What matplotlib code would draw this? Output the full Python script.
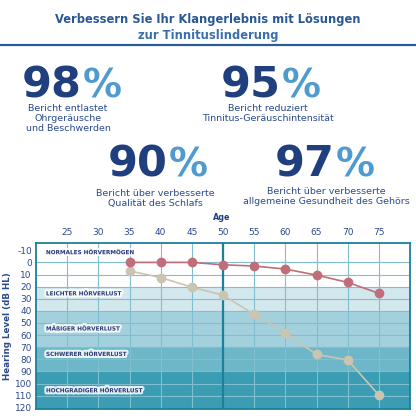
import matplotlib.pyplot as plt
import matplotlib.patheffects as pe
import numpy as np

plt.rcParams['axes.unicode_minus'] = False

ages = [35, 40, 45, 50, 55, 60, 65, 70, 75]
with_help = [0, 0, 0, 2, 3, 5.5, 10.5, 16.5, 25.5]
without_help = [7, 12.5, 20.5, 27, 43, 58, 76, 80.5, 109.5]

x_ticks = [25, 30, 35, 40, 45, 50, 55, 60, 65, 70, 75]
y_ticks = [-10, 0, 10, 20, 30, 40, 50, 60, 70, 80, 90, 100, 110, 120]

bands = [(-20, 20, '#ffffff'), (20, 40, '#d3e8ed'), (40, 70, '#a2d0dc'),
         (70, 90, '#6db7c8'), (90, 130, '#3b9db3')]
band_labels = [('NORMALES HÖRVERMÖGEN', -8), ('LEICHTER HÖRVERLUST', 26),
               ('MÄßIGER HÖRVERLUST', 55), ('SCHWERER HÖRVERLUST', 76),
               ('HOCHGRADIGER HÖRVERLUST', 106)]

stats = [('98', 'Bericht entlastet\nOhrgeräusche\nund Beschwerden'),
         ('95', 'Bericht reduziert\nTinnitus-Geräuschintensität'),
         ('90', 'Bericht über verbesserte\nQualität des Schlafs'),
         ('97', 'Bericht über verbesserte\nallgemeine Gesundheit des Gehörs')]

navy = '#1f3f7e'
text_blue = '#2b4a8c'
light_blue = '#4f9bd0'

fig = plt.figure(figsize=(4.16, 4.16), dpi=100)
W, H = 416, 416

def ft(x, y, s, **kw):
    fig.text(x / W, 1 - y / H, s, **kw)

# title
ft(208, 20, 'Verbessern Sie Ihr Klangerlebnis mit Lösungen', ha='center', va='center',
   fontsize=8.3, fontweight='bold', color='#2a5896')
ft(208, 35, 'zur Tinnituslinderung', ha='center', va='center',
   fontsize=8.3, fontweight='bold', color='#3a6fae')
fig.add_artist(plt.Line2D([0, 1], [1 - 45 / H] * 2, color='#2a5c9a', lw=1.6))

# big numbers
num_pos = [(82, 98, 68, 104), (281, 98, 268, 104), (168, 177, 155, 189), (335, 177, 326, 187)]
for (num, sub), (xs, yb, xc, ysub) in zip(stats, num_pos):
    ft(xs, yb, num, ha='right', va='baseline', fontsize=31, fontweight='heavy', color=navy)
    ft(xs + 1, yb, '%', ha='left', va='baseline', fontsize=28, fontweight='heavy', color=light_blue)
    ft(xc, ysub, sub, ha='center', va='top', fontsize=6.8, color=text_blue, linespacing=1.15)

# audiogram
ax = fig.add_axes([36 / W, 1 - 409 / H, 374 / W, 166 / H])
for lo, hi, c in bands:
    ax.axhspan(lo, hi, color=c, zorder=0, lw=0)
for v in range(0, 120, 10):
    ax.axhline(v, color='#7fbfcf', lw=0.8, zorder=1)
for v in x_ticks:
    ax.axvline(v, color='#7fbfcf', lw=0.8, zorder=1)
ax.axvline(50, color='#1d7f99', lw=1.6, zorder=2)

for label, yv in band_labels:
    ax.text(21.6, yv, label, fontsize=4.1, fontweight='bold', color='#2c3f78', va='center',
            zorder=3, path_effects=[pe.withStroke(linewidth=3, foreground='#ffffff', alpha=0.85)])

ax.plot(ages, without_help, color='#cbc4b0', lw=1.2, marker='o', ms=6, zorder=4)
ax.plot(ages, with_help, color='#c06e79', lw=1.2, marker='o', ms=6, zorder=5)

ax.set_xlim(20, 80)
ax.set_ylim(121, -16)
ax.xaxis.tick_top()
ax.set_xticks(x_ticks)
ax.set_yticks(y_ticks)
ax.tick_params(length=0, labelsize=6.5, labelcolor=text_blue, pad=4)
ax.tick_params(axis='y', pad=3)
for s in ax.spines.values():
    s.set_color('#1d7f99')
    s.set_linewidth(1.3)
ax.set_ylabel('Hearing Level (dB HL)', fontsize=6.3, fontweight='bold', color=text_blue, labelpad=2)
ft(222, 217, 'Age', ha='center', va='center', fontsize=5.8, fontweight='bold', color=navy)

fig.savefig('out.png', dpi=100)
